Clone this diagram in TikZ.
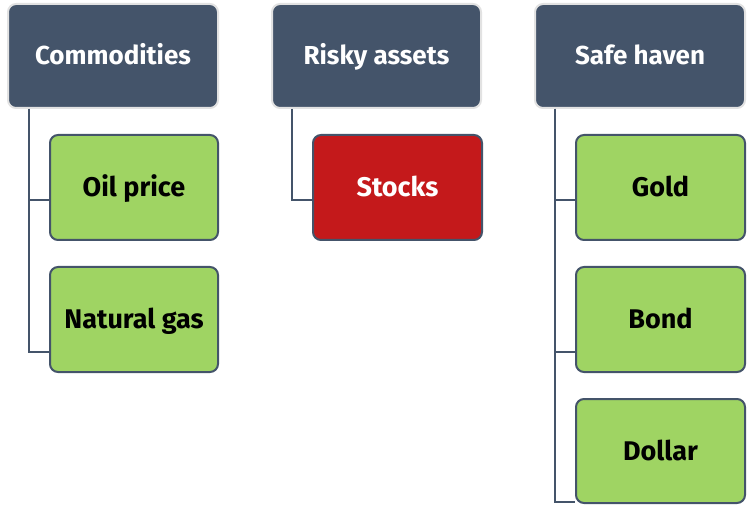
\documentclass[tikz,border=0pt]{standalone}
\usepackage{fontspec}
\setmainfont{Fira Sans}
\definecolor{hdr}{HTML}{44546A}
\definecolor{hdrline}{HTML}{E2E2E2}
\definecolor{grn}{HTML}{9FD463}
\definecolor{redb}{HTML}{C4191B}
\begin{document}
\begin{tikzpicture}[x=1pt,y=-1pt,
  header/.style={draw=hdrline, line width=2pt, fill=hdr, rounded corners=8pt, text=white, text height=18pt, text depth=0pt, font=\fontsize{26}{30}\selectfont\bfseries},
  child/.style={draw=hdr, line width=2pt, fill=grn, rounded corners=8pt, text=black, text height=18.6pt, text depth=0pt, font=\fontsize{27}{30}\selectfont\bfseries},
  conn/.style={draw=hdr, line width=2pt}]
\useasboundingbox (0,0) rectangle (750,505);
% headers
\node[header, minimum width=210pt, minimum height=104pt] (h1) at (113,56) {Commodities};
\node[header, minimum width=209pt, minimum height=104pt] (h2) at (376.5,56) {Risky assets};
\node[header, minimum width=210pt, minimum height=104pt] (h3) at (640,56) {Safe haven};
% children
\node[child, minimum width=168pt, minimum height=105pt] (c1) at (134,187.5) {Oil price};
\node[child, minimum width=168pt, minimum height=105pt] (c2) at (134,319.5) {Natural gas};
\node[child, fill=redb, text=white, minimum width=169pt, minimum height=105pt] (c3) at (397.5,187.5) {Stocks};
\node[child, minimum width=169pt, minimum height=105pt] (c4) at (660.5,187.5) {Gold};
\node[child, minimum width=169pt, minimum height=105pt] (c5) at (660.5,319.5) {Bond};
\node[child, minimum width=169pt, minimum height=104pt] (c6) at (660.5,451) {Dollar};
% connectors
\draw[conn] (h1.south -| 29,0) |- (c1.west |- 0,200);
\draw[conn] (h1.south -| 29,0) |- (c2.west |- 0,352);
\draw[conn] (h2.south -| 292,0) |- (c3.west |- 0,200);
\draw[conn] (h3.south -| 555,0) |- (c4.west |- 0,200);
\draw[conn] (h3.south -| 555,0) |- (c5.west |- 0,352);
\draw[conn] (h3.south -| 555,0) |- (c6.west |- 0,502);
\end{tikzpicture}
\end{document}
